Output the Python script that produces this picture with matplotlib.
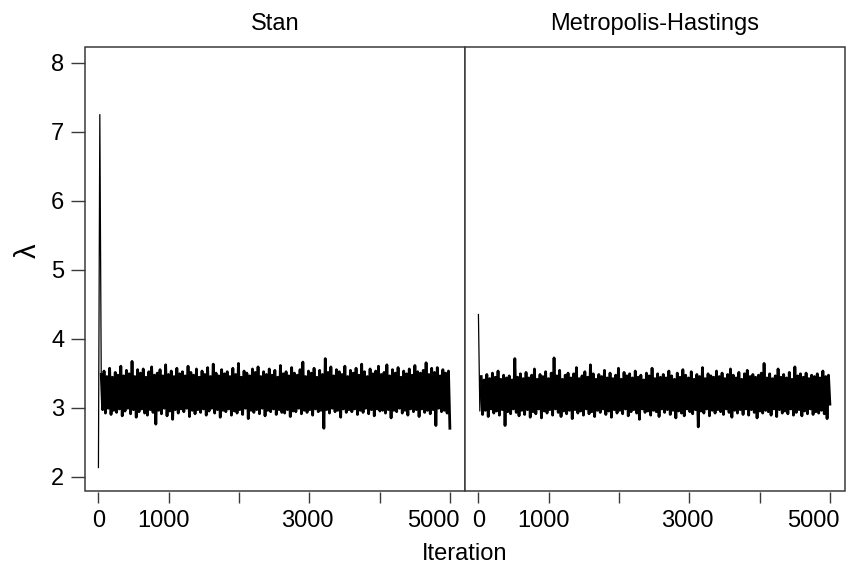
import numpy as np
import matplotlib.pyplot as plt
from matplotlib.patches import Rectangle
from matplotlib.transforms import ScaledTranslation

plt.rcParams['font.family'] = ['Liberation Sans', 'DejaVu Sans']
plt.rcParams['path.simplify'] = False

# trace values (lambda), ~every 20th iteration
stan_lambda = [
    2.13, 7.25,
    3.48, 2.97, 3.53, 2.92, 3.45, 2.99, 3.57, 2.90, 3.44, 2.96,
    3.51, 2.93, 3.47, 2.98, 3.60, 2.88, 3.46, 2.95, 3.54, 2.99,
    3.49, 2.91, 3.67, 2.97, 3.45, 2.86, 3.55, 2.94, 3.50, 2.98,
    3.56, 2.92, 3.44, 2.89, 3.52, 2.97, 3.59, 2.93, 3.47, 2.76,
    3.50, 2.96, 3.55, 2.91, 3.46, 2.99, 3.62, 2.88, 3.48, 2.95,
    3.53, 2.83, 3.45, 2.97, 3.57, 2.92, 3.49, 2.98, 3.52, 2.94,
    3.46, 2.99, 3.60, 2.87, 3.51, 2.96, 3.47, 2.91, 3.56, 2.97,
    3.44, 2.93, 3.53, 2.98, 3.48, 2.89, 3.58, 2.95, 3.45, 2.99,
    3.63, 2.92, 3.50, 2.97, 3.46, 2.86, 3.55, 2.96, 3.49, 2.94,
    3.52, 2.98, 3.45, 2.89, 3.57, 2.95, 3.48, 2.92, 3.64, 2.97,
    3.44, 2.90, 3.53, 2.99, 3.50, 2.84, 3.46, 2.96, 3.56, 2.93,
    3.51, 2.97, 3.59, 2.91, 3.45, 2.99, 3.52, 2.88, 3.48, 2.96,
    3.56, 2.94, 3.47, 2.98, 3.54, 2.90, 3.44, 2.97, 3.61, 2.93,
    3.49, 2.92, 3.52, 2.97, 3.46, 2.87, 3.58, 2.95, 3.50, 2.94,
    3.47, 2.99, 3.55, 2.91, 3.66, 2.96, 3.45, 2.93, 3.53, 2.97,
    3.50, 2.89, 3.57, 2.98, 3.44, 2.94, 3.54, 2.96, 3.48, 2.70,
    3.71, 2.97, 3.51, 2.92, 3.59, 2.99, 3.46, 2.94, 3.55, 2.96,
    3.52, 2.86, 3.48, 2.98, 3.60, 2.93, 3.45, 2.97, 3.54, 2.94,
    3.50, 2.98, 3.57, 2.90, 3.47, 2.96, 3.63, 2.93, 3.52, 2.99,
    3.45, 2.91, 3.56, 2.97, 3.49, 2.88, 3.53, 2.98, 3.60, 2.95,
    3.48, 2.96, 3.51, 2.92, 3.62, 2.97, 3.46, 2.85, 3.55, 2.96,
    3.50, 2.94, 3.58, 2.99, 3.44, 2.92, 3.53, 2.96, 3.49, 2.89,
    3.56, 2.98, 3.47, 2.94, 3.61, 2.97, 3.52, 2.87, 3.50, 2.98,
    3.54, 2.93, 3.65, 2.96, 3.48, 2.91, 3.57, 2.97, 3.51, 2.74,
    3.58, 2.99, 3.46, 2.94, 3.55, 2.96, 3.50, 2.92, 3.53, 2.70,
]

mh_lambda = [
    4.35, 2.95,
    3.45, 2.90, 3.40, 2.96, 3.48, 2.87, 3.42, 2.98, 3.50, 2.92,
    3.44, 2.95, 3.53, 2.89, 3.41, 2.97, 3.47, 2.74, 3.43, 2.94,
    3.46, 2.91, 3.40, 2.98, 3.71, 2.93, 3.44, 2.88, 3.49, 2.96,
    3.42, 2.90, 3.51, 2.97, 3.43, 2.86, 3.47, 2.94, 3.56, 2.91,
    3.41, 2.98, 3.48, 2.85, 3.45, 2.95, 3.52, 2.92, 3.42, 2.97,
    3.50, 2.89, 3.72, 2.98, 3.46, 2.93, 3.54, 2.87, 3.41, 2.95,
    3.47, 2.91, 3.50, 2.96, 3.43, 2.84, 3.49, 2.97, 3.58, 2.92,
    3.42, 2.95, 3.46, 2.89, 3.52, 2.98, 3.44, 2.91, 3.62, 2.94,
    3.49, 2.87, 3.41, 2.96, 3.48, 2.93, 3.45, 2.98, 3.54, 2.90,
    3.43, 2.95, 3.50, 2.86, 3.42, 2.97, 3.47, 2.92, 3.57, 2.96,
    3.41, 2.91, 3.51, 2.98, 3.46, 2.88, 3.49, 2.94, 3.43, 2.97,
    3.53, 2.92, 3.44, 2.83, 3.47, 2.98, 3.40, 2.93, 3.50, 2.95,
    3.46, 2.89, 3.57, 2.96, 3.42, 2.94, 3.49, 2.87, 3.44, 2.98,
    3.48, 2.93, 3.43, 2.97, 3.53, 2.90, 3.46, 2.96, 3.41, 2.85,
    3.50, 2.95, 3.44, 2.92, 3.55, 2.88, 3.47, 2.98, 3.43, 2.94,
    3.52, 2.91, 3.41, 2.97, 3.48, 2.72, 3.45, 2.95, 3.58, 2.92,
    3.42, 2.98, 3.49, 2.88, 3.46, 2.96, 3.44, 2.92, 3.53, 2.97,
    3.45, 2.94, 3.50, 2.90, 3.42, 2.98, 3.48, 2.93, 3.56, 2.86,
    3.47, 2.96, 3.43, 2.92, 3.51, 2.97, 3.41, 2.90, 3.49, 2.98,
    3.54, 2.89, 3.45, 2.97, 3.48, 2.93, 3.44, 2.85, 3.47, 2.95,
    3.50, 2.92, 3.64, 2.96, 3.43, 2.94, 3.49, 2.89, 3.42, 2.98,
    3.46, 2.87, 3.56, 2.97, 3.44, 2.92, 3.48, 2.95, 3.43, 2.91,
    3.51, 2.98, 3.41, 2.89, 3.59, 2.93, 3.46, 2.97, 3.49, 2.88,
    3.44, 2.95, 3.50, 2.91, 3.42, 2.98, 3.47, 2.90, 3.45, 2.94,
    3.49, 2.92, 3.43, 2.96, 3.53, 2.91, 3.45, 2.84, 3.47, 3.05,
]

panel_titles = ['Stan', 'Metropolis-Hastings']
x_ticks = [0, 1000, 2000, 3000, 4000, 5000]
x_ticklabels = ['0', '1000', '', '3000', '', '5000']
label_nudge_px = [0, -5, 0, -2, 0, -17]   # labels sit a bit left of their ticks
y_ticks = [2, 3, 4, 5, 6, 7, 8]
n_iter = 5000
n_warm = 3   # first draws drawn with a thin line

frame_col = '#3a3a3a'

fig = plt.figure(figsize=(8.54, 5.69), dpi=100)

left, width = 85 / 854, 380 / 854
bottom, height = 1 - 491 / 569, 444 / 569

for k, (title, chain) in enumerate(zip(panel_titles, [stan_lambda, mh_lambda])):
    ax = fig.add_axes([left + k * width, bottom, width, height])
    iters = np.linspace(1, n_iter, len(chain))
    ax.plot(iters[:n_warm], chain[:n_warm], color='black', lw=0.9)
    ax.plot(iters[n_warm - 1:], chain[n_warm - 1:], color='black', lw=2.0)

    ax.set_xlim(-190, 5215)
    ax.set_ylim(1.79, 8.23)

    for s in ax.spines.values():
        s.set_visible(False)
    ax.spines['bottom'].set_position(('outward', 1))
    ax.add_patch(Rectangle((0, 0), 1, 1, transform=ax.transAxes, fill=False,
                           edgecolor=frame_col, lw=1.1, clip_on=False, zorder=5))

    ax.set_xticks(x_ticks)
    ax.set_xticklabels(x_ticklabels)
    ax.tick_params(axis='x', direction='out', length=8, width=1.0,
                   color=frame_col, labelsize=17, pad=5)
    for lab, dx in zip(ax.get_xticklabels(), label_nudge_px):
        lab.set_transform(lab.get_transform() + ScaledTranslation(dx / 100, 0, fig.dpi_scale_trans))

    if k == 0:
        ax.set_yticks(y_ticks)
        ax.tick_params(axis='y', direction='out', length=10, width=1.0,
                       color=frame_col, labelsize=17, pad=5)
    else:
        ax.set_yticks([])

    ax.set_title(title, fontsize=17, pad=12)

fig.text(0.032, 0.56, 'λ', rotation=90, fontsize=21, ha='center', va='center')
fig.text(left + width, 0.027, 'Iteration', fontsize=17, ha='center', va='center')

fig.savefig('out.png', dpi=100)
